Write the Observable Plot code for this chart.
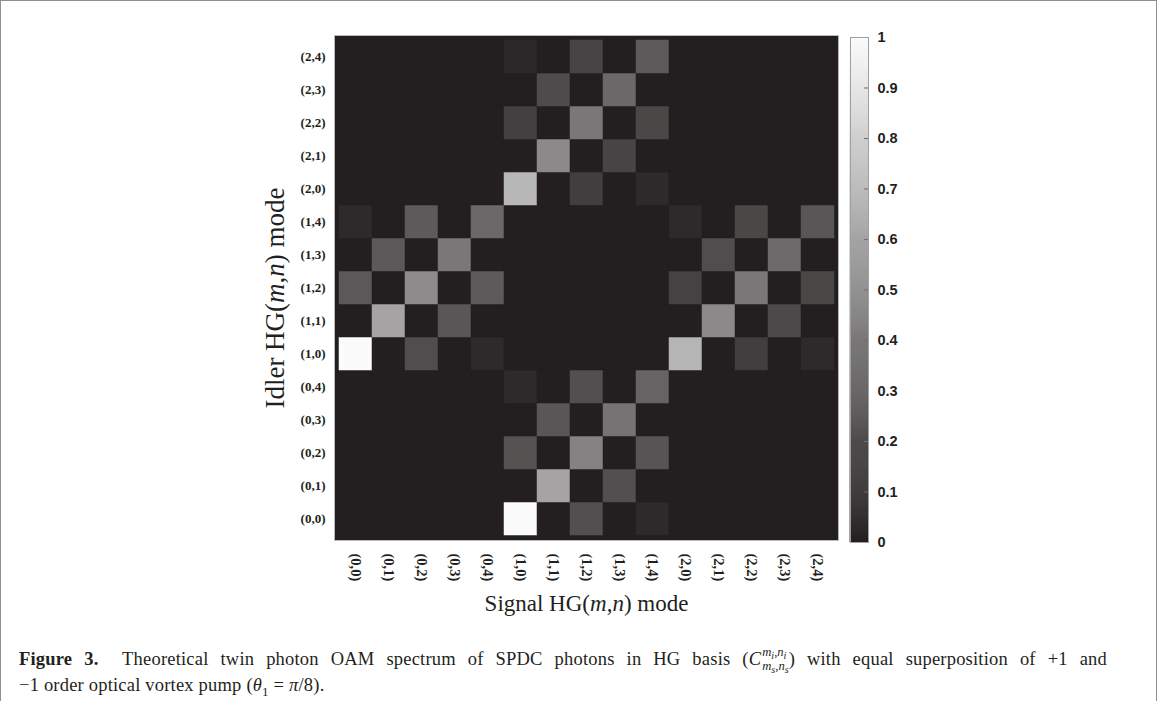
<!DOCTYPE html>
<html>
<head>
<meta charset="utf-8">
<script src="https://cdn.jsdelivr.net/npm/d3@7"></script>
<script src="https://cdn.jsdelivr.net/npm/@observablehq/plot@0.6"></script>
<style>
  html, body { margin: 0; padding: 0; background: #fff; width: 1163px; height: 701px; overflow: hidden; }
  #frame { position: absolute; left: 0; top: 0; width: 1157px; height: 760px; border: 1.5px solid #8f8f8f; box-sizing: border-box; }
  #main { position: absolute; left: 0; top: 0; }
  #cbar { position: absolute; left: 845px; top: 25px; }
  #main g[aria-label="y-axis label"] text { font-family: "Liberation Serif", serif; font-weight: normal; font-size: 27px; fill: #231f20; }
  #main g[aria-label="x-axis label"] text { font-family: "Liberation Serif", serif; font-weight: normal; font-size: 23px; fill: #231f20; }
  #caption { position: absolute; left: 19px; top: 647px; width: 1088px; font-family: "Liberation Serif", serif; font-size: 18.5px; letter-spacing: 0.2px; line-height: 21px; color: #231f20; }
  #caption .l1 { text-align: justify; text-align-last: justify; white-space: normal; }
  #caption .l2 { white-space: nowrap; }
  .ss { display: inline-block; vertical-align: -0.45em; line-height: 0.85em; font-size: 0.68em; margin-left: 1px; letter-spacing: 0; }
  .ss span { display: block; }
  .ss sub { font-size: 0.8em; vertical-align: -0.25em; }
</style>
</head>
<body>
<div id="frame"></div>
<div id="main"></div>
<div id="cbar"></div>
<div id="caption"><div class="l1"><b>Figure 3.</b>&nbsp; Theoretical twin photon OAM spectrum of SPDC photons in HG basis (<i>C</i><span class="ss"><span><i>m</i><sub><i>i</i></sub>,<i>n</i><sub><i>i</i></sub></span><span><i>m</i><sub><i>s</i></sub>,<i>n</i><sub><i>s</i></sub></span></span>) with equal superposition of +1 and</div><div class="l2">−1 order optical vortex pump (<i>θ</i><sub style="font-size:0.7em">1</sub> = <i>π</i>/8).</div></div>
<script>
// HG(m,n) mode labels, used for both signal (x) and idler (y)
const modes = ["(0,0)","(0,1)","(0,2)","(0,3)","(0,4)",
               "(1,0)","(1,1)","(1,2)","(1,3)","(1,4)",
               "(2,0)","(2,1)","(2,2)","(2,3)","(2,4)"];

// Coincidence probability per idler mode (row), over signal modes (0,0)..(2,4)
const idler_0_0 = [0,0,0,0,0,    1.00,0,0.22,0,0.05,  0,0,0,0,0];
const idler_0_1 = [0,0,0,0,0,    0,0.60,0,0.22,0,     0,0,0,0,0];
const idler_0_2 = [0,0,0,0,0,    0.23,0,0.45,0,0.24,  0,0,0,0,0];
const idler_0_3 = [0,0,0,0,0,    0,0.25,0,0.38,0,     0,0,0,0,0];
const idler_0_4 = [0,0,0,0,0,    0.05,0,0.22,0,0.31,  0,0,0,0,0];
const idler_1_0 = [1.00,0,0.21,0,0.05,  0,0,0,0,0,   0.68,0,0.14,0,0.05];
const idler_1_1 = [0,0.60,0,0.25,0,     0,0,0,0,0,   0,0.48,0,0.19,0];
const idler_1_2 = [0.26,0,0.49,0,0.27,  0,0,0,0,0,   0.16,0,0.40,0,0.18];
const idler_1_3 = [0,0.26,0,0.40,0,     0,0,0,0,0,   0,0.21,0,0.34,0];
const idler_1_4 = [0.05,0,0.27,0,0.33,  0,0,0,0,0,   0.05,0,0.18,0,0.25];
const idler_2_0 = [0,0,0,0,0,    0.69,0,0.14,0,0.05,  0,0,0,0,0];
const idler_2_1 = [0,0,0,0,0,    0,0.48,0,0.17,0,     0,0,0,0,0];
const idler_2_2 = [0,0,0,0,0,    0.15,0,0.40,0,0.18,  0,0,0,0,0];
const idler_2_3 = [0,0,0,0,0,    0,0.20,0,0.33,0,     0,0,0,0,0];
const idler_2_4 = [0,0,0,0,0,    0.04,0,0.17,0,0.27,  0,0,0,0,0];

const colorTicks = [0,0.1,0.2,0.3,0.4,0.5,0.6,0.7,0.8,0.9,1];

const rows = [idler_0_0, idler_0_1, idler_0_2, idler_0_3, idler_0_4,
              idler_1_0, idler_1_1, idler_1_2, idler_1_3, idler_1_4,
              idler_2_0, idler_2_1, idler_2_2, idler_2_3, idler_2_4];

const cells = [];
rows.forEach((row, i) => row.forEach((v, j) => cells.push({idler: modes[i], signal: modes[j], value: v})));

const colorOpts = {type: "linear", domain: [0, 1], range: ["#231f20", "#fbfbfb"]};

const main = Plot.plot({
  width: 1163, height: 630,
  marginLeft: 334, marginRight: 325, marginTop: 35, marginBottom: 90,
  style: {background: "transparent", color: "#231f20"},
  x: {type: "band", domain: modes, padding: 0},
  y: {type: "band", domain: modes.slice().reverse(), padding: 0},
  color: colorOpts,
  marks: [
    Plot.frame({fill: "#231f20"}),
    Plot.cell(cells, {x: "signal", y: "idler", fill: "value", inset: 0, stroke: "value", strokeWidth: 0.5}),
    Plot.frame({stroke: "#b8b8b8"}),
    Plot.axisX({tickRotate: 90, tickSize: 0, tickPadding: 13, fontSize: 14.5, fontWeight: "bold", fontFamily: "Liberation Serif",
                label: "Signal HG(m,n) mode", labelAnchor: "center", labelOffset: 70}),
    Plot.axisY({tickSize: 0, tickPadding: 9, fontSize: 13, fontWeight: "bold", fontFamily: "Liberation Serif",
                label: "Idler HG(m,n) mode", labelAnchor: "center", labelOffset: 70})
  ]
});
document.getElementById("main").appendChild(main);

// rich axis labels with italic m,n
function richLabel(svg, aria, parts, shiftY) {
  const g = svg.querySelector(`g[aria-label="${aria}"]`);
  const t = g && g.querySelector("text");
  if (!t) return;
  t.textContent = "";
  for (const [s, it] of parts) {
    const ts = document.createElementNS("http://www.w3.org/2000/svg", "tspan");
    ts.textContent = s;
    if (it) ts.setAttribute("font-style", "italic");
    t.appendChild(ts);
  }
  if (shiftY) g.setAttribute("transform", ((g.getAttribute("transform") || "") + ` translate(0,${shiftY})`).trim());
}
const labelParts = (w) => [[w + " HG(", false], ["m", true], [",", false], ["n", true], [") mode", false]];
richLabel(main, "x-axis label", labelParts("Signal"), 0);
richLabel(main, "y-axis label", labelParts("Idler"), 10);

// vertical colorbar
const step = 0.002;
const ramp = d3.range(0, 1, step);
const cbar = Plot.plot({
  width: 80, height: 529,
  marginLeft: 5, marginRight: 57, marginTop: 12, marginBottom: 12,
  style: {background: "transparent", color: "#231f20"},
  y: {domain: [0, 1]},
  color: colorOpts,
  marks: [
    Plot.rect(ramp, {y1: d => d, y2: d => d + step, fill: d => d + step / 2, stroke: d => d + step / 2, strokeWidth: 0.6}),
    Plot.tickY(colorTicks.slice(1, -1), {y: d => d, stroke: "#6f6f6f", insetLeft: 14}),
    Plot.frame({stroke: "#a0a0a0"}),
    Plot.axisY({anchor: "right", ticks: colorTicks, tickSize: 0, tickPadding: 9,
                tickFormat: d => (d === 0 || d === 1) ? String(d) : d.toFixed(1),
                fontSize: 14.5, fontWeight: "bold", fontFamily: "Liberation Sans", label: null})
  ]
});
document.getElementById("cbar").appendChild(cbar);
</script>
</body>
</html>
